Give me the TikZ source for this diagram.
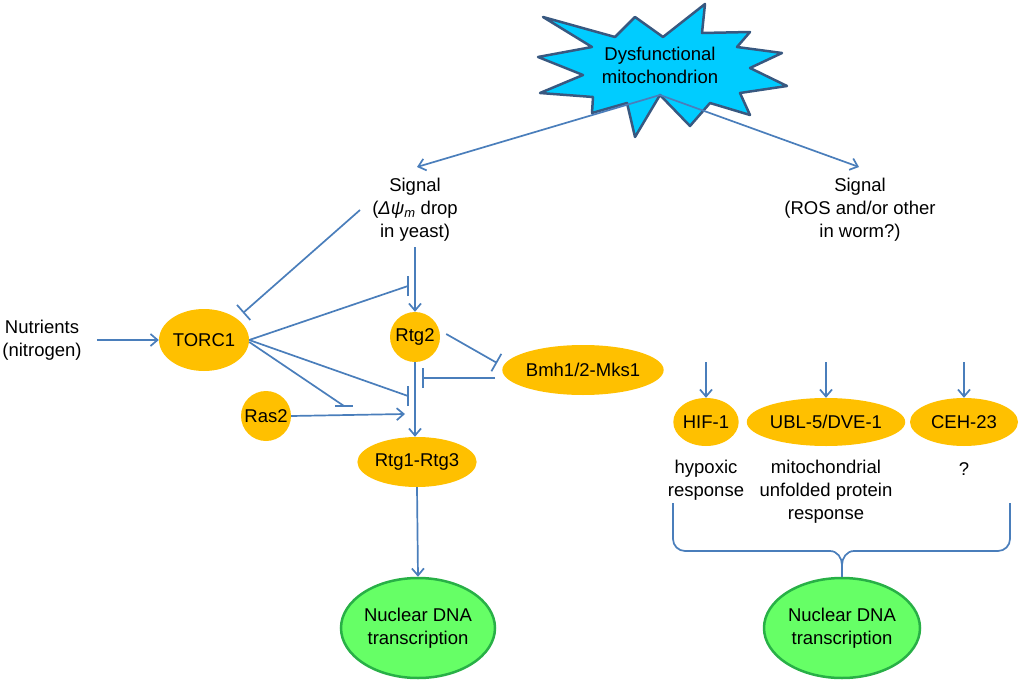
\documentclass[tikz,border=0pt]{standalone}
\usepackage{fontspec}
\setmainfont{Liberation Sans}
\usetikzlibrary{shapes.geometric,arrows.meta}
\definecolor{lineblue}{RGB}{74,126,187}
\definecolor{protorange}{RGB}{255,192,0}
\definecolor{nucgreen}{RGB}{102,255,102}
\definecolor{nucdark}{RGB}{40,176,70}
\definecolor{burstcyan}{RGB}{0,204,255}
\definecolor{burstedge}{RGB}{56,88,128}
\begin{document}
\begin{tikzpicture}[
			x=1pt, y=-1pt,
			font=\fontsize{18.5}{23}\selectfont,
			txt/.style={align=center, inner sep=0pt},
			prot/.style={ellipse, fill=protorange, inner sep=0pt},
			nucl/.style={ellipse, fill=nucgreen, draw=nucdark, line width=2.5pt, align=center, inner sep=0pt, minimum height=100pt},
			wire/.style={draw=lineblue, line width=1.7pt},
			act/.style={wire, -{Straight Barb[length=7pt,width=12pt]}},
			inh/.style={wire, -{Bar[width=20pt]}}
		]
		\useasboundingbox (0,0) rectangle (1021,688);
		% dysfunctional mitochondrion
		\draw[fill=burstcyan, draw=burstedge, line width=2.5pt, line join=round]
			(543,17) -- (615,37) -- (635,17) -- (663,37) -- (705,4) -- (702,33)
			-- (750,32) -- (737,47) -- (782,53) -- (750,68) -- (787,86) -- (740,93)
			-- (750,115) -- (710,103) -- (690,126) -- (660,95) -- (635,137) -- (627,103)
			-- (592,113) -- (593,97) -- (540,93) -- (583,75) -- (538,57) -- (592,47) -- cycle;
		\node[txt] (mito) at (660,65) {Dysfunctional\\mitochondrion};
		\coordinate (mitobot) at (660,95);
		% signals
		\node[txt] (sigL) at (415,210) {Signal\\({\itshape Δψ\textsubscript{m}} drop\\in yeast)};
		\node[txt] (sigR) at (860,210) {Signal\\(ROS and/or other\\in worm?)};
		\coordinate (sigLin) at (417,167);
		\coordinate (sigRin) at (859,167);
		\draw[act] (mitobot) -- (sigLin);
		\draw[act] (mitobot) -- (sigRin);
		% yeast side
		\node[txt] (nutr) at (42,340) {Nutrients\\(nitrogen)};
		\node[prot, minimum width=90pt, minimum height=62pt] (torc) at (204,340) {TORC1};
		\node[prot, circle, minimum size=50pt] (rtg2) at (415,337) {Rtg2};
		\node[prot, circle, minimum size=50pt] (ras2) at (266,416) {Ras2};
		\node[prot, minimum width=137pt, minimum height=50pt] (bmh) at (583,370) {Bmh1/2-Mks1};
		\node[prot, minimum width=108pt, minimum height=50pt] (rtg13) at (417,462) {Rtg1-Rtg3};
		\node[nucl, minimum width=154pt] (nucL) at (418,628) {Nuclear DNA\\transcription};
		\coordinate (sigLout) at (415,247);
		\coordinate (sigLtor) at (360,210);
		\coordinate (barA) at (408,286);
		\coordinate (barB) at (408,396);
		\coordinate (barC) at (344,406);
		\coordinate (rasend) at (405,414);
		\draw[act] ([xshift=15pt]nutr.east |- torc.west) -- (torc.west);
		\draw[inh] (sigLtor) -- (243,313);
		\draw[act] (sigLout) -- (rtg2.north);
		\draw[wire] (torc.east) -- (barA);
		\draw[wire] ([yshift=-10pt]barA) -- ([yshift=10pt]barA);
		\draw[wire] (torc.east) -- (barB);
		\draw[wire] ([yshift=-10pt]barB) -- ([yshift=10pt]barB);
		\draw[wire] ([yshift=-2pt]torc.east) -- (barC);
		\draw[wire] ([xshift=-9pt]barC) -- ([xshift=9pt]barC);
		\draw[act] (ras2.east) -- (rasend);
		\draw[inh] ([xshift=6pt,yshift=3pt]rtg2.east) -- ([xshift=-5pt,yshift=7pt]bmh.west);
		\draw[inh] ([xshift=-7pt,yshift=-8pt]bmh.west) -- (422,378);
		\draw[act] (rtg2.south) -- (rtg2.south |- rtg13.north);
		\draw[act] (rtg13.south) -- (nucL.north);
		% worm side
		\node[prot, minimum width=60pt, minimum height=48pt] (hif) at (706,422) {HIF-1};
		\node[prot, minimum width=137pt, minimum height=48pt] (ubl) at (826,422) {UBL-5/DVE-1};
		\node[prot, minimum width=108pt, minimum height=48pt] (ceh) at (964,422) {CEH-23};
		\node[txt] (hypo) at (706,480.5) {hypoxic\\response};
		\node[txt] (upr) at (826,492) {mitochondrial\\unfolded protein\\response};
		\node[txt] (unk) at (964,469) {?};
		\node[nucl, minimum width=156pt] (nucR) at (842,628) {Nuclear DNA\\transcription};
		\foreach \p in {hif,ubl,ceh}
			\draw[act] (\p.north |- 0,362) -- (\p.north);
		\draw[wire] (673,503) -- (673,539) to[out=-90,in=180] (685,551) -- (830,551)
			to[out=0,in=90] (842,565) to[out=90,in=180] (854,551) -- (998,551)
			to[out=0,in=-90] (1010,539) -- (1010,503);
		\draw[wire] (842,565) -- (nucR.north);
	\end{tikzpicture}
\end{document}
